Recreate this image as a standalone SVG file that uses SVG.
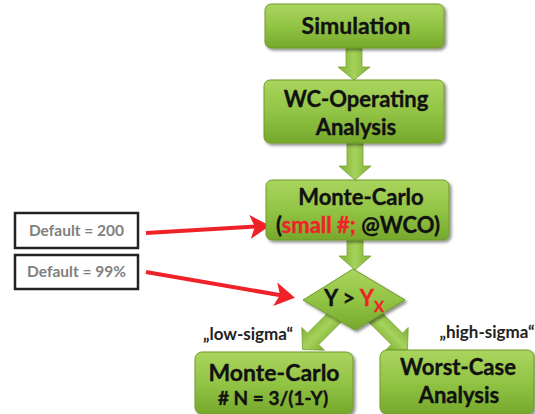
<svg xmlns="http://www.w3.org/2000/svg" width="535" height="414" viewBox="0 0 535 414">
<defs>
<linearGradient id="gBox" x1="0" y1="0" x2="0" y2="1">
<stop offset="0" stop-color="#aad55e"/>
<stop offset="0.5" stop-color="#92c445"/>
<stop offset="1" stop-color="#76a82c"/>
</linearGradient>
<linearGradient id="gArrow" x1="0" y1="0" x2="1" y2="0">
<stop offset="0" stop-color="#7fae35"/>
<stop offset="0.5" stop-color="#a5d25a"/>
<stop offset="1" stop-color="#7fae35"/>
</linearGradient>
<filter id="sh" x="-10%" y="-10%" width="125%" height="130%">
<feGaussianBlur in="SourceAlpha" stdDeviation="1.5"/>
<feOffset dx="1.5" dy="2" result="b"/>
<feComponentTransfer><feFuncA type="linear" slope="0.45"/></feComponentTransfer>
<feMerge><feMergeNode/><feMergeNode in="SourceGraphic"/></feMerge>
</filter>
<marker id="redHead" markerWidth="6" markerHeight="6" refX="4" refY="3" orient="auto" markerUnits="strokeWidth">
<path d="M0,0 L5,3 L0,6 L1.2,3 Z" fill="#ee2228"/>
</marker>
</defs>
<style>
.box{fill:url(#gBox);stroke:#6f9b2c;stroke-width:1;filter:url(#sh)}
.arr{fill:url(#gArrow);stroke:#77a530;stroke-width:0.8}
.t{font-family:Lato,"Open Sans","Liberation Sans",sans-serif;font-weight:bold;fill:#111;stroke:#111;stroke-width:0.35;text-anchor:middle}
.red{fill:#ee2228;stroke:#ee2228}
.dbox{fill:#fff;stroke:#222;stroke-width:2.5}
.dt{font-family:Lato,"Liberation Sans",sans-serif;font-weight:bold;fill:#808080;font-size:15.5px;text-anchor:middle}
.lab{font-family:Lato,"Liberation Sans",sans-serif;font-weight:bold;fill:#222;font-size:17px;text-anchor:middle}
.rl{stroke:#ee2228;stroke-width:4;fill:none;marker-end:url(#redHead)}
</style>

<g id="connectors">
<polygon class="arr" points="346,48 362,48 362,67 370,67 354,80 338,67 346,67"/>
<polygon class="arr" points="347,143 363,143 363,166 371,166 355,180 339,166 347,166"/>
<polygon class="arr" points="347,240 363,240 363,256 371,256 355,270 339,256 347,256"/>
<g transform="translate(340,312) rotate(45)">
<polygon class="arr" points="-8,0 8,0 8,38 16,38 0,53 -16,38 -8,38"/>
</g>
<g transform="translate(370,312) rotate(-45)">
<polygon class="arr" points="-8,0 8,0 8,38 16,38 0,53 -16,38 -8,38"/>
</g>
<line class="rl" x1="146" y1="233" x2="266" y2="226"/>
<line class="rl" x1="146" y1="272" x2="291" y2="297"/>
</g>

<g id="simulation">
<rect class="box" x="265" y="4" width="179" height="44" rx="6"/>
<text class="t" x="356" y="34" font-size="23">Simulation</text>
</g>

<g id="wc-operating">
<rect class="box" x="264" y="80" width="180" height="63" rx="6"/>
<text class="t" x="356" y="107" font-size="22">WC-Operating</text>
<text class="t" x="356" y="135" font-size="22">Analysis</text>
</g>

<g id="monte-carlo-1">
<rect class="box" x="266" y="180" width="183" height="60" rx="6"/>
<text class="t" x="361" y="205" font-size="22">Monte-Carlo</text>
<text class="t" x="358" y="233" font-size="22">(<tspan class="red">small #;</tspan> @WCO)</text>
</g>

<g id="default-200">
<rect class="dbox" x="15" y="213" width="123" height="35"/>
<text class="dt" x="76.5" y="236">Default = 200</text>
</g>

<g id="default-99">
<rect class="dbox" x="15" y="255" width="123" height="34"/>
<text class="dt" x="76.5" y="277">Default = 99%</text>
</g>

<g id="decision">
<polygon class="box" points="353,269 405,300 355,330 303,300"/>
<text class="t" x="354" y="306" font-size="22">Y &gt; <tspan class="red">Y</tspan><tspan class="red" font-size="15" dy="6">X</tspan></text>
</g>

<g id="monte-carlo-2">
<rect class="box" x="195" y="352" width="158" height="62" rx="7"/>
<text class="t" x="274" y="381" font-size="23">Monte-Carlo</text>
<text class="t" x="273" y="405" font-size="19">#  N = 3/(1-Y)</text>
<text class="lab" x="248" y="340">„low-sigma“</text>
</g>

<g id="worst-case">
<rect class="box" x="380" y="350" width="154" height="64" rx="7"/>
<text class="t" x="458" y="375" font-size="22">Worst-Case</text>
<text class="t" x="459" y="403" font-size="22">Analysis</text>
<text class="lab" x="487" y="338">„high-sigma“</text>
</g>
</svg>
